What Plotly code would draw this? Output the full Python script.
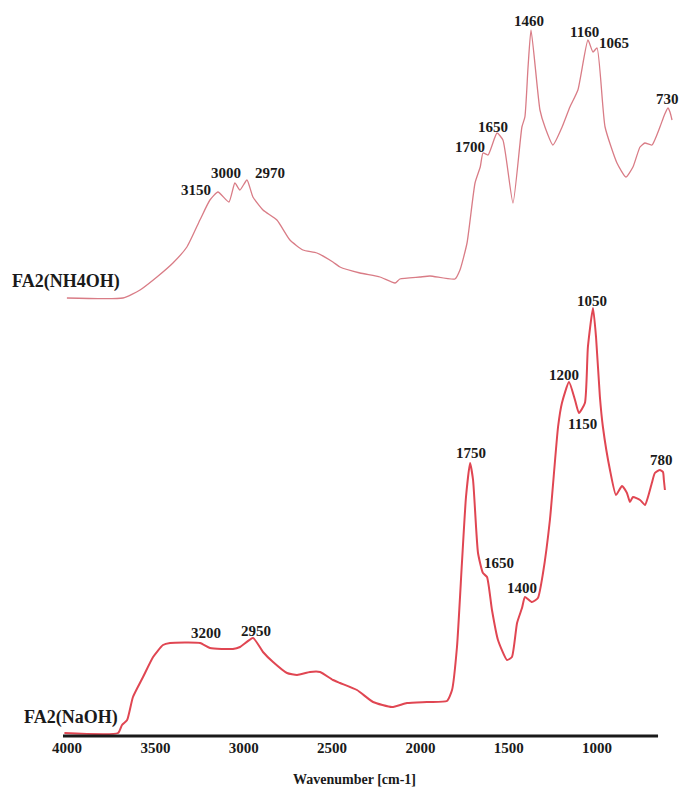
import plotly.graph_objects as go

# FTIR spectra of FA2 extracted with NH4OH (upper) and NaOH (lower), offset vertically.
# Wavenumbers in cm-1, intensities in arbitrary units.

nh4oh_wavenumber = [3962, 3661, 3569, 3478, 3392, 3317, 3247, 3193, 3150, 3091, 3059, 3032,
                    2994, 2962, 2908, 2833, 2763, 2693, 2618, 2532, 2494, 2387, 2279, 2198,
                    2172, 2064, 2010, 1876, 1849, 1811, 1768, 1740, 1725, 1698, 1650, 1618,
                    1564, 1516, 1500, 1483, 1467, 1419, 1392, 1349, 1300, 1258, 1215, 1161, 1134,
                    1112, 1069, 1005, 957, 919, 881, 855, 817, 774, 750, 731, 720, 709]
nh4oh_intensity = [4.39, 4.39, 4.47, 4.60, 4.74, 4.90, 5.17, 5.37, 5.45, 5.35, 5.54, 5.47,
                   5.57, 5.40, 5.27, 5.17, 4.97, 4.87, 4.84, 4.75, 4.70, 4.64, 4.60, 4.54,
                   4.58, 4.60, 4.61, 4.58, 4.67, 4.94, 5.54, 5.70, 5.84, 5.82, 6.04, 5.97,
                   5.34, 6.10, 6.20, 6.70, 7.07, 6.27, 6.10, 5.92, 6.10, 6.30, 6.47, 6.97, 6.85,
                   6.89, 6.10, 5.74, 5.60, 5.70, 5.90, 5.94, 5.92, 6.10, 6.22, 6.29, 6.25, 6.17]

naoh_wavenumber = [4015, 3711, 3689, 3660, 3627, 3570, 3513, 3457, 3417, 3247, 3191, 3061,
                   3021, 2947, 2891, 2834, 2755, 2698, 2625, 2568, 2495, 2455, 2359, 2268,
                   2161, 2076, 1963, 1850, 1821, 1793, 1765, 1742, 1719, 1702, 1674, 1646,
                   1623, 1595, 1561, 1510, 1482, 1453, 1425, 1408, 1369, 1335, 1306, 1267,
                   1221, 1199, 1159, 1125, 1103, 1069, 1052, 1023, 1006, 984, 967, 927,
                   893, 859, 831, 814, 797, 757, 729, 712, 690, 673, 644, 627, 622, 616]
naoh_intensity = [0.04, 0.04, 0.12, 0.17, 0.40, 0.60, 0.80, 0.92, 0.94, 0.94, 0.89, 0.88,
                  0.90, 0.99, 0.85, 0.75, 0.64, 0.62, 0.65, 0.65, 0.57, 0.54, 0.47, 0.35,
                  0.30, 0.34, 0.35, 0.36, 0.47, 0.90, 1.74, 2.40, 2.74, 2.57, 1.84, 1.64,
                  1.60, 1.27, 0.97, 0.77, 0.80, 1.14, 1.29, 1.40, 1.35, 1.39, 1.64, 2.17,
                  3.10, 3.34, 3.55, 3.37, 3.24, 3.34, 3.90, 4.29, 4.00, 3.40, 3.10, 2.67,
                  2.42, 2.51, 2.44, 2.35, 2.40, 2.37, 2.32, 2.40, 2.54, 2.64, 2.67, 2.65, 2.57, 2.47]

# Peak assignments written on each spectrum
nh4oh_peaks = [3150, 3000, 2970, 1700, 1650, 1460, 1160, 1065, 730]
naoh_peaks = [3200, 2950, 1750, 1650, 1400, 1200, 1150, 1050, 780]

# Label placement (horizontal pixel shift, height in plot units)
nh4oh_label_dx = [-22, -20, 19, -18, -4, -3, -4, 8, -1]
nh4oh_label_y = [5.47, 5.64, 5.64, 5.90, 6.10, 7.16, 7.05, 6.94, 6.38]
naoh_label_dx = [-2, 3, 6, 17, -4, 2, 12, 4, 26]
naoh_label_y = [1.04, 1.06, 2.84, 1.74, 1.49, 3.62, 3.13, 4.36, 2.77]

tick_values = [4000, 3500, 3000, 2500, 2000, 1500, 1000]

SERIF = "Liberation Serif, Times New Roman, serif"

fig = go.Figure()
fig.add_trace(go.Scatter(
    x=nh4oh_wavenumber, y=nh4oh_intensity, xaxis="x2", yaxis="y",
    mode="lines", line=dict(color="#d97c86", width=1.3, shape="spline", smoothing=0.5),
    name="FA2(NH4OH)", showlegend=False,
))
fig.add_trace(go.Scatter(
    x=naoh_wavenumber, y=naoh_intensity, xaxis="x", yaxis="y",
    mode="lines", line=dict(color="#e04652", width=2, shape="spline", smoothing=0.5),
    name="FA2(NaOH)", showlegend=False,
))

annotations = []
for v, dx, yy in zip(nh4oh_peaks, nh4oh_label_dx, nh4oh_label_y):
    annotations.append(dict(x=v, y=yy, xref="x2", yref="y", text=f"<b>{v}</b>",
                            showarrow=False, xshift=dx, xanchor="center", yanchor="middle",
                            font=dict(family=SERIF, size=15, color="#1a1a1a")))
for v, dx, yy in zip(naoh_peaks, naoh_label_dx, naoh_label_y):
    annotations.append(dict(x=v, y=yy, xref="x", yref="y", text=f"<b>{v}</b>",
                            showarrow=False, xshift=dx, xanchor="center", yanchor="middle",
                            font=dict(family=SERIF, size=15, color="#1a1a1a")))

annotations += [
    dict(x=-0.0866, y=0.633, xref="paper", yref="paper", text="<b>FA2(NH4OH)</b>",
         showarrow=False, xanchor="left", yanchor="middle",
         font=dict(family=SERIF, size=18, color="#1a1a1a")),
    dict(x=-0.067, y=0.0264, xref="paper", yref="paper", text="<b>FA2(NaOH)</b>",
         showarrow=False, xanchor="left", yanchor="middle",
         font=dict(family=SERIF, size=18, color="#1a1a1a")),
    dict(x=0.4755, y=-0.0597, xref="paper", yref="paper", text="<b>Wavenumber [cm-1]</b>",
         showarrow=False, xanchor="center", yanchor="middle",
         font=dict(family=SERIF, size=14, color="#1a1a1a")),
]

fig.update_layout(
    width=679, height=788,
    margin=dict(l=63, r=4, t=17, b=51),
    paper_bgcolor="white", plot_bgcolor="white",
    xaxis=dict(range=[4023, 559], tickvals=tick_values, ticktext=[f"<b>{t}</b>" for t in tick_values],
               showgrid=False, zeroline=False, showline=False, ticks="",
               tickfont=dict(family=SERIF, size=15, color="#1a1a1a")),
    xaxis2=dict(range=[3983, 693], overlaying="x", visible=False),
    yaxis=dict(range=[0, 7.2], visible=False),
    annotations=annotations,
    shapes=[dict(type="line", xref="x", yref="paper", x0=4023, x1=655, y0=0.0014, y1=0.0014,
                 line=dict(color="#1a1a1a", width=3))],
)

fig.write_html("out.html")
